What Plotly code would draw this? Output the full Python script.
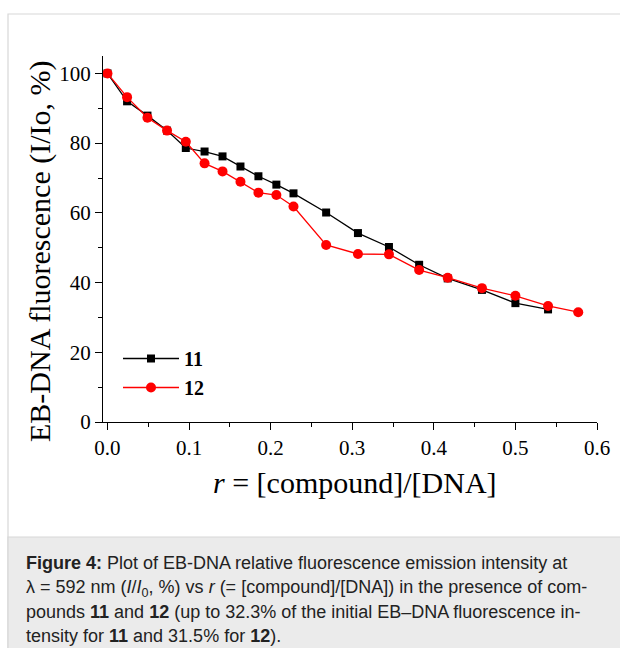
import plotly.graph_objects as go

# ---- data ----
r_11 = [0.0, 0.024, 0.049, 0.073, 0.096, 0.119, 0.141, 0.163, 0.185, 0.207,
        0.228, 0.268, 0.307, 0.345, 0.382, 0.417, 0.459, 0.500, 0.540]
fl_11 = [100.0, 92.0, 87.9, 83.6, 78.6, 77.6, 76.2, 73.3, 70.5, 68.1,
         65.6, 60.1, 54.2, 50.2, 45.1, 41.2, 37.9, 34.1, 32.3]

r_12 = [0.0, 0.024, 0.049, 0.073, 0.096, 0.119, 0.141, 0.163, 0.185, 0.207,
        0.228, 0.268, 0.307, 0.345, 0.382, 0.417, 0.459, 0.500, 0.540, 0.577]
fl_12 = [100.0, 93.2, 87.3, 83.6, 80.4, 74.2, 71.9, 68.9, 65.8, 65.1,
         61.8, 50.8, 48.2, 48.1, 43.6, 41.4, 38.4, 36.2, 33.3, 31.5]

series_names = ["11", "12"]
x_ticks = [0.0, 0.1, 0.2, 0.3, 0.4, 0.5, 0.6]
y_ticks = [0, 20, 40, 60, 80, 100]

caption_lines = [
    "<b>Figure 4:</b> Plot of EB-DNA relative fluorescence emission intensity at",
    "λ = 592 nm (<i>I</i>/<i>I</i><sub>0</sub>, %) vs <i>r</i> (= [compound]/[DNA]) in the presence of com-",
    "pounds <b>11</b> and <b>12</b> (up to 32.3% of the initial EB–DNA fluorescence in-",
    "tensity for <b>11</b> and 31.5% for <b>12</b>).",
]

# ---- layout geometry (pixels) ----
W, H = 620, 648
L, R, T, B = 103, 23, 56, 226
PW, PH = W - L - R, H - T - B


def px(x):
    return (x - L) / PW


def py(y):
    return (H - B - y) / PH


SERIF = "Liberation Serif, Times New Roman, serif"
SANS = "Liberation Sans, Arial, Helvetica, sans-serif"

fig = go.Figure()
fig.add_trace(go.Scatter(
    x=r_11, y=fl_11, name=series_names[0], mode="lines+markers",
    line=dict(color="black", width=1.3),
    marker=dict(symbol="square", size=8, color="black"),
))
fig.add_trace(go.Scatter(
    x=r_12, y=fl_12, name=series_names[1], mode="lines+markers",
    line=dict(color="#ff0000", width=1.3),
    marker=dict(symbol="circle", size=10, color="#ff0000"),
))

axis_common = dict(
    showline=True, linecolor="black", linewidth=1.3, mirror=False,
    showgrid=False, zeroline=False, ticks="outside", ticklen=7, tickwidth=1.3,
    tickcolor="black", tickfont=dict(family=SERIF, size=21, color="black"),
)

fig.update_xaxes(
    range=[-0.0055, 0.6], tickvals=x_ticks, tickformat=".1f",
    minor=dict(ticks="outside", ticklen=4, tickwidth=1.3, tickcolor="black", dtick=0.05, tick0=0),
    **axis_common,
)
fig.update_yaxes(
    range=[0, 105], tickvals=y_ticks,
    minor=dict(ticks="outside", ticklen=4, tickwidth=1.3, tickcolor="black", dtick=10, tick0=0),
    **axis_common,
)

shapes = [
    dict(type="rect", xref="paper", yref="paper", layer="below",
         x0=px(8), x1=px(W + 5), y0=py(H + 5), y1=py(14),
         line=dict(color="#d8d8d8", width=1.2), fillcolor="white"),
    dict(type="rect", xref="paper", yref="paper", layer="below",
         x0=px(8), x1=px(W + 5), y0=py(H + 5), y1=py(537),
         line=dict(color="#d8d8d8", width=1.2), fillcolor="#ebebeb"),
]

annotations = [
    dict(text="<i>r</i> = [compound]/[DNA]", xref="paper", yref="paper",
         x=px(355), y=py(482), xanchor="center", yanchor="middle", showarrow=False,
         font=dict(family=SERIF, size=30, color="black")),
    dict(text="EB-DNA fluorescence (I/Io, %)", xref="paper", yref="paper",
         x=px(40), y=py(251), xanchor="center", yanchor="middle", showarrow=False,
         textangle=-90, font=dict(family=SERIF, size=30, color="black")),
]
line_y = [563, 588, 612, 636]
for txt, yy in zip(caption_lines, line_y):
    annotations.append(dict(
        text=txt, xref="paper", yref="paper", x=px(24), y=py(yy),
        xanchor="left", yanchor="middle", showarrow=False, align="left",
        font=dict(family=SANS, size=18, color="#222222"),
    ))

fig.update_layout(
    width=W, height=H,
    margin=dict(l=L, r=R, t=T, b=B, autoexpand=False),
    paper_bgcolor="white", plot_bgcolor="rgba(0,0,0,0)",
    showlegend=True,
    legend=dict(
        x=px(118), y=py(339), xanchor="left", yanchor="top",
        bgcolor="rgba(0,0,0,0)", itemwidth=56,
        font=dict(family=SERIF, size=20, color="black", weight="bold"),
        tracegroupgap=0,
    ),
    shapes=shapes, annotations=annotations,
)

fig.write_html(
    "out.html",
    config={"displayModeBar": False},
    post_script="document.body.style.margin='0';document.body.style.padding='0';",
)
